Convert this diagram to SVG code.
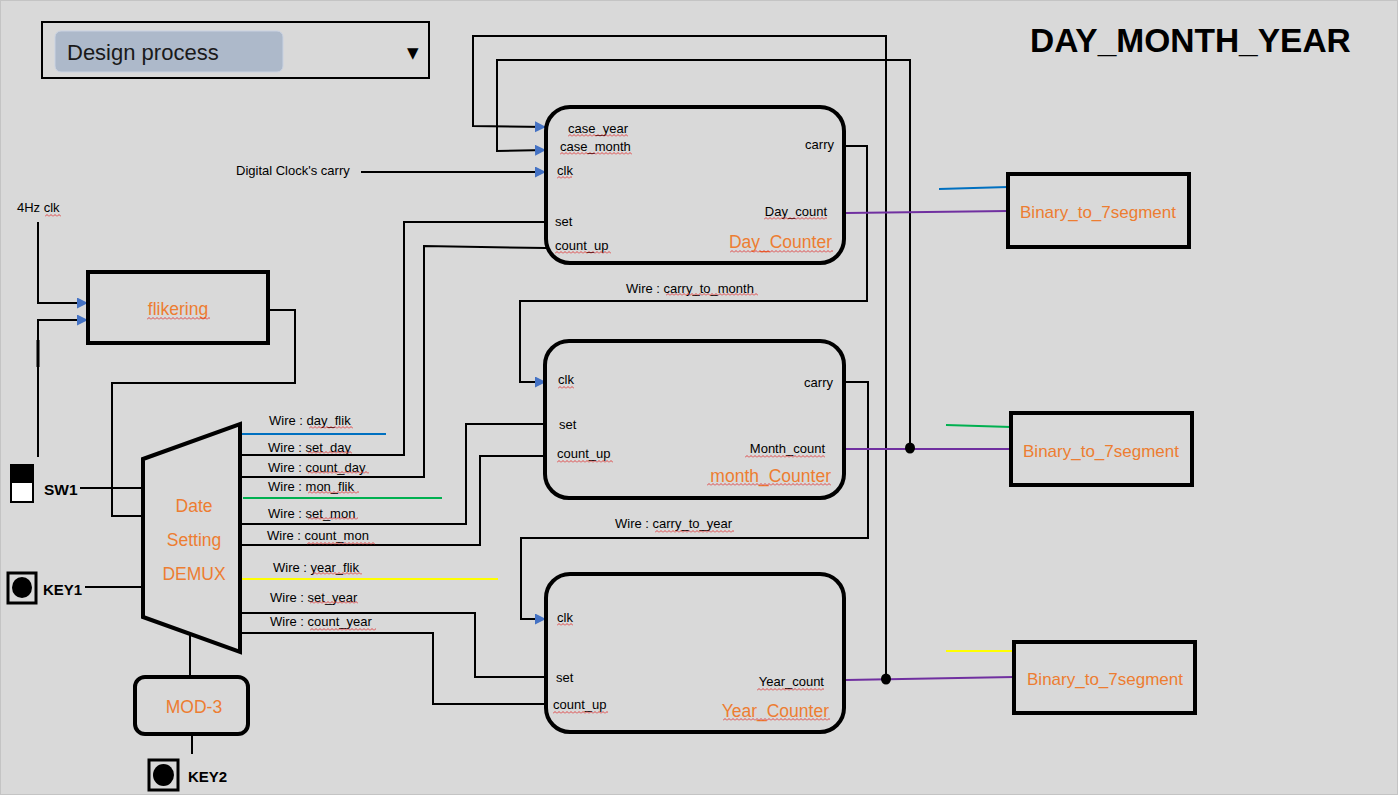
<svg xmlns="http://www.w3.org/2000/svg" width="1398" height="795" viewBox="0 0 1398 795">
<defs>
<style>
.lbl{font-family:"Liberation Sans",Arial,sans-serif;font-size:13px;fill:#000}
.big{font-family:"Liberation Sans",Arial,sans-serif;font-size:17.5px;fill:#ed7d31}
.bold{font-family:"Liberation Sans",Arial,sans-serif;font-weight:bold;fill:#000}
.box{fill:none;stroke:#000;stroke-width:4}
.w{fill:none;stroke:#000;stroke-width:2}
.p{fill:none;stroke:#7030a0;stroke-width:2}
.sq{fill:url(#sq)}
</style>
<pattern id="sq" width="4" height="3" patternUnits="userSpaceOnUse"><path d="M0 2.5 L2 0.5 L4 2.5" fill="none" stroke="#e02020" stroke-width="0.8"/></pattern>
<marker id="ar" markerUnits="userSpaceOnUse" markerWidth="12" markerHeight="12" refX="11" refY="5.5" orient="auto"><path d="M0 0 L11 5.5 L0 11 Z" fill="#4472c4"/></marker>
</defs>
<rect x="0" y="0" width="1398" height="795" fill="#d9d9d9"/>
<rect x="0.5" y="0.5" width="1397" height="794" fill="none" stroke="#c4c4c4"/>

<g id="design-process">
<rect x="42" y="22" width="387" height="56" fill="none" stroke="#000" stroke-width="2"/>
<rect x="55" y="31" width="228" height="41" rx="6" fill="#adb9ca" stroke="#c9d2e2" stroke-width="1"/>
<text x="67" y="60" style="font-family:'Liberation Sans',Arial,sans-serif;font-size:22px;fill:#1a1a1a">Design process</text>
<text x="407" y="58" style="font-family:'DejaVu Sans',sans-serif;font-size:15px;fill:#000">▼</text>
</g>
<g id="title"><text x="1030" y="52" class="bold" style="font-size:33.5px">DAY_MONTH_YEAR</text></g>

<g id="connectors">
<polyline class="w" points="886,680 886,36 473,36 473,126 546,127" marker-end="url(#ar)"/>
<polyline class="w" points="910,449 910,60 497,60 497,151 546,150" marker-end="url(#ar)"/>
<polyline class="w" points="361,172 546,172" marker-end="url(#ar)"/>
<polyline class="w" points="240,455 404,455 404,222 546,222"/>
<polyline class="w" points="240,477 424,477 424,246 546,248"/>
<polyline class="w" points="846,146 867,146 867,301 520,301 520,382 546,382" marker-end="url(#ar)"/>
<polyline class="w" points="240,524 466,524 466,424 546,424"/>
<polyline class="w" points="240,545 480,545 480,456 546,456"/>
<polyline class="w" points="846,382 868,382 868,538 521,538 521,619 546,619" marker-end="url(#ar)"/>
<polyline class="w" points="240,613 475,613 475,677 546,677"/>
<polyline class="w" points="240,633 433,633 433,704 546,704"/>
<line class="p" x1="846" y1="213" x2="1008" y2="211"/>
<line class="p" x1="846" y1="449" x2="1011" y2="449"/>
<line class="p" x1="846" y1="680" x2="1014" y2="677"/>
<line x1="240" y1="434" x2="386" y2="434" stroke="#0070c0" stroke-width="2"/>
<line x1="939" y1="189" x2="1008" y2="187" stroke="#0070c0" stroke-width="2"/>
<line x1="243" y1="498" x2="442" y2="498" stroke="#00b050" stroke-width="2"/>
<line x1="946" y1="425" x2="1011" y2="427" stroke="#00b050" stroke-width="2"/>
<line x1="240" y1="579" x2="498" y2="579" stroke="#ffff00" stroke-width="2"/>
<line x1="946" y1="651" x2="1014" y2="651" stroke="#ffff00" stroke-width="2"/>
<polyline class="w" points="38,222 38,303 88,303" marker-end="url(#ar)"/>
<polyline class="w" points="38,457 38,320 88,320" marker-end="url(#ar)"/>
<line x1="38" y1="340" x2="38" y2="367" stroke="#000" stroke-width="3"/>
<polyline class="w" points="268,310 295,310 295,383 112,383 112,516 143,516"/>
<line class="w" x1="80" y1="488" x2="143" y2="488"/>
<line class="w" x1="85" y1="587" x2="143" y2="587"/>
<line class="w" x1="190" y1="634" x2="190" y2="677"/>
<line class="w" x1="192" y1="735" x2="192" y2="754"/>
<ellipse cx="910" cy="448" rx="5" ry="5.5" fill="#000"/>
<ellipse cx="886" cy="679" rx="5" ry="5.5" fill="#000"/>
</g>

<g id="labels-wires">
<text class="lbl" x="236" y="175">Digital Clock's carry</text>
<text class="lbl" x="17" y="212">4Hz clk</text>
<text class="lbl" x="626" y="293">Wire : carry_to_month</text>
<text class="lbl" x="615" y="528">Wire : carry_to_year</text>
<text class="lbl" x="269" y="425">Wire : day_flik</text>
<text class="lbl" x="268" y="452">Wire : set_day</text>
<text class="lbl" x="268" y="472">Wire : count_day</text>
<text class="lbl" x="268" y="491">Wire : mon_flik</text>
<text class="lbl" x="268" y="518">Wire : set_mon</text>
<text class="lbl" x="267" y="540">Wire : count_mon</text>
<text class="lbl" x="273" y="572">Wire : year_flik</text>
<text class="lbl" x="270" y="602">Wire : set_year</text>
<text class="lbl" x="270" y="626">Wire : count_year</text>
</g>

<g id="day-counter">
<rect class="box" x="546" y="107" width="298" height="156" rx="24"/>
<text class="lbl" x="568" y="133">case_year</text>
<text class="lbl" x="560" y="151">case_month</text>
<text class="lbl" x="557" y="175">clk</text>
<text class="lbl" x="555" y="226">set</text>
<text class="lbl" x="555" y="250">count_up</text>
<text class="lbl" x="834" y="149" text-anchor="end">carry</text>
<text class="lbl" x="827" y="216" text-anchor="end">Day_count</text>
<text class="big" x="832" y="248" text-anchor="end">Day_Counter</text>
</g>

<g id="month-counter">
<rect class="box" x="545" y="341" width="299" height="157" rx="24"/>
<text class="lbl" x="558" y="384">clk</text>
<text class="lbl" x="559" y="429">set</text>
<text class="lbl" x="557" y="458">count_up</text>
<text class="lbl" x="833" y="387" text-anchor="end">carry</text>
<text class="lbl" x="825" y="453" text-anchor="end">Month_count</text>
<text class="big" x="831" y="482" text-anchor="end">month_Counter</text>
</g>

<g id="year-counter">
<rect class="box" x="546" y="574" width="298" height="158" rx="24"/>
<text class="lbl" x="557" y="622">clk</text>
<text class="lbl" x="556" y="682">set</text>
<text class="lbl" x="553" y="709">count_up</text>
<text class="lbl" x="824" y="686" text-anchor="end">Year_count</text>
<text class="big" x="829" y="717" text-anchor="end">Year_Counter</text>
</g>

<g id="bin-day"><rect class="box" x="1008" y="174" width="181" height="73"/><text class="big" x="1098" y="218" text-anchor="middle" style="font-size:17px">Binary_to_7segment</text></g>
<g id="bin-month"><rect class="box" x="1011" y="413" width="181" height="72"/><text class="big" x="1101" y="457" text-anchor="middle" style="font-size:17px">Binary_to_7segment</text></g>
<g id="bin-year"><rect class="box" x="1014" y="642" width="181" height="71"/><text class="big" x="1105" y="685" text-anchor="middle" style="font-size:17px">Binary_to_7segment</text></g>

<g id="flikering"><rect class="box" x="88" y="272" width="180" height="71"/><text class="big" x="178" y="315" text-anchor="middle">flikering</text></g>

<g id="demux">
<polygon class="box" points="143,459 240,424 240,652 143,617"/>
<text class="big" x="194" y="512" text-anchor="middle">Date</text>
<text class="big" x="194" y="546" text-anchor="middle">Setting</text>
<text class="big" x="194" y="580" text-anchor="middle">DEMUX</text>
</g>

<g id="mod3"><rect class="box" x="135" y="677" width="113" height="57" rx="10"/><text class="big" x="194" y="713" text-anchor="middle">MOD-3</text></g>

<g id="sw1">
<rect x="11" y="465" width="22" height="37" fill="#fff" stroke="#000" stroke-width="2"/>
<rect x="11" y="465" width="22" height="18" fill="#000"/>
<text class="bold" x="44" y="495" style="font-size:15.5px">SW1</text>
</g>
<g id="key1">
<rect x="8" y="573" width="28" height="30" fill="none" stroke="#000" stroke-width="3"/>
<ellipse cx="22" cy="587.5" rx="10" ry="10.5" fill="#000"/>
<text class="bold" x="43" y="595" style="font-size:15px">KEY1</text>
</g>
<g id="key2">
<rect x="149" y="760" width="29" height="30" fill="none" stroke="#000" stroke-width="3"/>
<ellipse cx="163.5" cy="775" rx="10.5" ry="11" fill="#000"/>
<text class="bold" x="188" y="782" style="font-size:15px">KEY2</text>
</g>

<g id="spellcheck-marks">
<rect class="sq" width="60" height="3" transform="translate(568,134)"/>
<rect class="sq" width="72" height="3" transform="translate(560,152)"/>
<rect class="sq" width="15" height="3" transform="translate(557,176)"/>
<rect class="sq" width="56" height="3" transform="translate(555,251)"/>
<rect class="sq" width="63" height="3" transform="translate(764,217)"/>
<rect class="sq" width="103" height="3" transform="translate(730,250)"/>
<rect class="sq" width="92" height="3" transform="translate(666,293)"/>
<rect class="sq" width="16" height="3" transform="translate(558,386)"/>
<rect class="sq" width="56" height="3" transform="translate(557,460)"/>
<rect class="sq" width="80" height="3" transform="translate(745,455)"/>
<rect class="sq" width="124" height="3" transform="translate(707,483)"/>
<rect class="sq" width="79" height="3" transform="translate(655,530)"/>
<rect class="sq" width="16" height="3" transform="translate(557,623)"/>
<rect class="sq" width="55" height="3" transform="translate(553,711)"/>
<rect class="sq" width="67" height="3" transform="translate(757,688)"/>
<rect class="sq" width="107" height="3" transform="translate(723,718)"/>
<rect class="sq" width="44" height="3" transform="translate(309,426)"/>
<rect class="sq" width="44" height="3" transform="translate(308,451)"/>
<rect class="sq" width="61" height="3" transform="translate(308,471)"/>
<rect class="sq" width="51" height="3" transform="translate(308,491)"/>
<rect class="sq" width="50" height="3" transform="translate(308,517)"/>
<rect class="sq" width="68" height="3" transform="translate(307,542)"/>
<rect class="sq" width="49" height="3" transform="translate(313,572)"/>
<rect class="sq" width="48" height="3" transform="translate(310,601)"/>
<rect class="sq" width="66" height="3" transform="translate(310,628)"/>
<rect class="sq" width="63" height="3" transform="translate(147,317)"/>
<rect class="sq" width="16" height="3" transform="translate(45,214)"/>
</g>
</svg>
